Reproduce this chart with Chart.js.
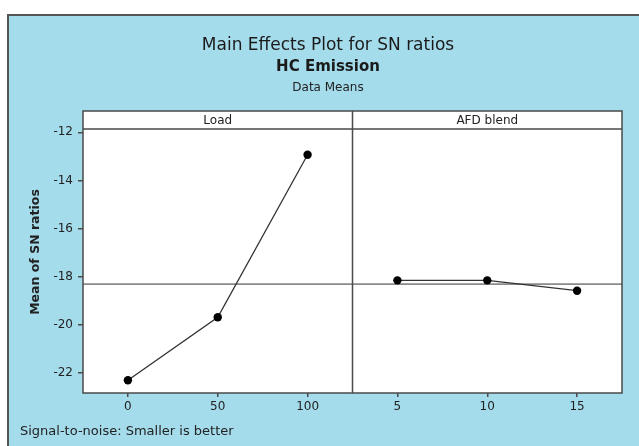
<!DOCTYPE html>
<html>
<head>
<meta charset="utf-8">
<script src="https://cdn.jsdelivr.net/npm/chart.js@4.4.0/dist/chart.umd.min.js"></script>
<style>
  html, body { margin: 0; padding: 0; background: #fff; }
  #wrap { width: 639px; height: 446px; }
</style>
</head>
<body>
<div id="wrap"><canvas id="main-effects" width="639" height="446"></canvas></div>
<script>
// ------------------------
// DATA
// ------------------------

const loadLevels = [0, 50, 100]
const loadMeans = [-22.30, -19.68, -12.93]

const afdLevels = [5, 10, 15]
const afdMeans = [-18.15, -18.15, -18.58]

const yTicks = [-22, -20, -18, -16, -14, -12]
const loadTicks = [0, 50, 100]
const afdTicks = [5, 10, 15]

const panelNames = ['Load', 'AFD blend']
const titleLines = ['Main Effects Plot for SN ratios', 'HC Emission', 'Data Means']
const yTitle = 'Mean of SN ratios'
const footNote = 'Signal-to-noise: Smaller is better'

// grand mean of the SN ratios, drawn as the reference line
const grandMean = loadMeans.reduce((a, b) => a + b, 0) / loadMeans.length

// ------------------------
// STYLE
// ------------------------

const FONT = "'DejaVu Sans', sans-serif"
const panelBlue = 'rgb(165, 220, 236)'
const frameColor = '#4a4a4a'
const textColor = '#222'

// ------------------------
// PLUGIN - panel, headers, titles, reference line
// ------------------------

const minitabFrame = {
  id: 'minitabFrame',
  beforeDraw(chart) {
    const ctx = chart.ctx
    const area = chart.chartArea
    const divider = chart.scales.xLoad.right
    ctx.save()
    ctx.fillStyle = '#fff'
    ctx.fillRect(0, 0, chart.width, chart.height)
    ctx.fillStyle = panelBlue
    ctx.fillRect(8, 15, chart.width, chart.height)
    ctx.strokeStyle = '#555'
    ctx.lineWidth = 2
    ctx.beginPath()
    ctx.moveTo(8, chart.height)
    ctx.lineTo(8, 15)
    ctx.lineTo(chart.width, 15)
    ctx.stroke()

    // white plot area + header strip
    const headTop = area.top - 18
    ctx.fillStyle = '#fff'
    ctx.fillRect(area.left, headTop, area.right - area.left, area.bottom - headTop)

    // titles
    ctx.fillStyle = '#1a1a1a'
    ctx.textAlign = 'center'
    ctx.textBaseline = 'middle'
    const cx = 328
    ctx.font = '17px ' + FONT
    ctx.fillText(titleLines[0], cx, 46)
    ctx.font = 'bold 15px ' + FONT
    ctx.fillText(titleLines[1], cx, 67)
    ctx.font = '12px ' + FONT
    ctx.fillStyle = textColor
    ctx.fillText(titleLines[2], cx, 88)

    // panel headers
    ctx.fillText(panelNames[0], (area.left + divider) / 2, headTop + 9.5)
    ctx.fillText(panelNames[1], (divider + area.right) / 2, headTop + 9.5)

    // y axis title, centred on plot + header
    ctx.save()
    ctx.translate(36, (headTop + area.bottom) / 2)
    ctx.rotate(-Math.PI / 2)
    ctx.font = 'bold 12.5px ' + FONT
    ctx.fillText(yTitle, 0, 0)
    ctx.restore()

    // footnote
    ctx.textAlign = 'left'
    ctx.font = '13px ' + FONT
    ctx.fillText(footNote, 20, 432)
    ctx.restore()
  },
  beforeDatasetsDraw(chart) {
    const ctx = chart.ctx
    const area = chart.chartArea
    const y = chart.scales.y.getPixelForValue(grandMean)
    ctx.save()
    ctx.strokeStyle = '#333'
    ctx.lineWidth = 1
    ctx.beginPath()
    ctx.moveTo(area.left, y)
    ctx.lineTo(area.right, y)
    ctx.stroke()
    ctx.restore()
  },
  afterDraw(chart) {
    const ctx = chart.ctx
    const area = chart.chartArea
    const divider = chart.scales.xLoad.right
    const headTop = area.top - 18
    ctx.save()
    ctx.strokeStyle = frameColor
    ctx.lineWidth = 1.5
    ctx.strokeRect(area.left, headTop, area.right - area.left, area.bottom - headTop)
    ctx.beginPath()
    ctx.moveTo(area.left, area.top)
    ctx.lineTo(area.right, area.top)
    ctx.moveTo(divider, headTop)
    ctx.lineTo(divider, area.bottom)
    ctx.stroke()
    ctx.restore()
  }
}

// ------------------------
// CHART
// ------------------------

const lineStyle = {
  borderColor: '#333',
  borderWidth: 1.3,
  pointRadius: 4.2,
  pointBackgroundColor: '#000',
  pointBorderWidth: 0,
  tension: 0,
  fill: false
}

const xAxis = (min, max, ticks) => ({
  type: 'linear',
  position: 'bottom',
  stack: 'panels',
  stackWeight: 1,
  min: min,
  max: max,
  border: { display: false },
  grid: { drawOnChartArea: false, tickLength: 4, color: frameColor, lineWidth: 1.5 },
  ticks: {
    color: textColor,
    font: { family: FONT, size: 12 },
    padding: 3,
    maxRotation: 0,
    callback: v => String(v)
  },
  afterBuildTicks: s => { s.ticks = ticks.map(v => ({ value: v })) },
  afterFit: s => { s.height = 53 }
})

const mainChart = new Chart(document.querySelector('#main-effects'), {
  type: 'line',
  data: {
    datasets: [
      Object.assign({
        label: panelNames[0],
        xAxisID: 'xLoad',
        data: loadLevels.map((x, i) => ({ x: x, y: loadMeans[i] }))
      }, lineStyle),
      Object.assign({
        label: panelNames[1],
        xAxisID: 'xAfd',
        data: afdLevels.map((x, i) => ({ x: x, y: afdMeans[i] }))
      }, lineStyle)
    ]
  },
  options: {
    responsive: false,
    animation: false,
    devicePixelRatio: 1,
    layout: { padding: { top: 129, right: 17, left: 0, bottom: 0 } },
    plugins: {
      legend: { display: false },
      tooltip: { enabled: false }
    },
    scales: {
      xLoad: xAxis(-25, 125, loadTicks),
      xAfd: xAxis(2.5, 17.5, afdTicks),
      y: {
        type: 'linear',
        position: 'left',
        min: -22.83,
        max: -11.86,
        border: { display: false },
        grid: { drawOnChartArea: false, tickLength: 5, color: frameColor, lineWidth: 1.5 },
        ticks: {
          color: textColor,
          font: { family: FONT, size: 12 },
          padding: 5,
          callback: v => String(v)
        },
        afterBuildTicks: s => { s.ticks = yTicks.map(v => ({ value: v })) },
        afterFit: s => { s.width = 83 }
      }
    }
  },
  plugins: [minitabFrame]
})
</script>
</body>
</html>
